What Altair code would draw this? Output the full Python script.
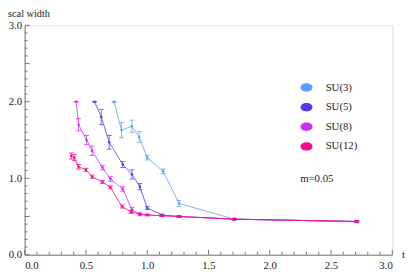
import altair as alt
import pandas as pd

series_names = ["SU(3)", "SU(5)", "SU(8)", "SU(12)"]
series_colors = ["#5c9eff", "#5a38f2", "#d02cf8", "#f70a8e"]

su3_t = [0.73, 0.79, 0.875, 0.935, 1.0, 1.13, 1.26, 1.71, 2.71]
su3_w = [2.00, 1.63, 1.68, 1.54, 1.27, 1.09, 0.67, 0.465, 0.43]
su3_e = [0.0, 0.10, 0.08, 0.07, 0.03, 0.03, 0.04, 0.01, 0.01]

su5_t = [0.57, 0.625, 0.69, 0.80, 0.875, 0.94, 1.0, 1.12, 1.26, 1.71, 2.71]
su5_w = [2.00, 1.80, 1.47, 1.18, 1.05, 0.89, 0.61, 0.52, 0.50, 0.465, 0.435]
su5_e = [0.0, 0.10, 0.09, 0.04, 0.06, 0.04, 0.02, 0.01, 0.01, 0.01, 0.01]

su8_t = [0.42, 0.44, 0.505, 0.55, 0.635, 0.70, 0.80, 0.875, 0.94, 1.0, 1.12, 1.26, 1.71, 2.71]
su8_w = [2.00, 1.70, 1.50, 1.36, 1.14, 0.99, 0.86, 0.59, 0.53, 0.52, 0.51, 0.50, 0.465, 0.435]
su8_e = [0.0, 0.08, 0.06, 0.06, 0.03, 0.03, 0.03, 0.03, 0.02, 0.01, 0.01, 0.01, 0.01, 0.01]

su12_t = [0.38, 0.405, 0.44, 0.50, 0.55, 0.635, 0.70, 0.795, 0.87, 0.94, 1.0, 1.12, 1.26, 1.71, 2.71]
su12_w = [1.29, 1.27, 1.15, 1.11, 1.02, 0.95, 0.88, 0.63, 0.56, 0.53, 0.52, 0.51, 0.50, 0.465, 0.435]
su12_e = [0.04, 0.04, 0.03, 0.02, 0.02, 0.02, 0.02, 0.02, 0.02, 0.01, 0.01, 0.01, 0.01, 0.01, 0.01]

major_ticks = [0.0, 0.5, 1.0, 1.5, 2.0, 2.5, 3.0]
minor_ticks = [i / 10 for i in range(0, 31) if i % 5 != 0]

rows = []
for name, ts, ws, es in zip(series_names,
                            [su3_t, su5_t, su8_t, su12_t],
                            [su3_w, su5_w, su8_w, su12_w],
                            [su3_e, su5_e, su8_e, su12_e]):
    for t, w, e in zip(ts, ws, es):
        rows.append({"series": name, "t": t, "w": w, "lo": w - e, "hi": w + e})
df = pd.DataFrame(rows)

W, H = 375, 234
serif = "Liberation Serif"

xs = alt.Scale(domain=[0, 3], nice=False, zero=False)
ys = alt.Scale(domain=[0, 3], nice=False, zero=False)
cs = alt.Scale(domain=series_names, range=series_colors)

ellipse = "M -1 0 A 1 0.7 0 1 0 1 0 A 1 0.7 0 1 0 -1 0 Z"

xaxis = alt.Axis(values=major_ticks, format=".1f", title=None, ticks=False, grid=False,
                 domainColor="#777777", labelFont=serif, labelFontSize=11,
                 labelColor="#222222", labelPadding=5)
yaxis = alt.Axis(values=major_ticks, format=".1f", title=None, ticks=False, grid=False,
                 domainColor="#777777", labelFont=serif, labelFontSize=11,
                 labelColor="#222222", labelPadding=3)

base = alt.Chart(df)

lines = base.mark_line(strokeWidth=1, opacity=0.8).encode(
    x=alt.X("t:Q", scale=xs, axis=xaxis),
    y=alt.Y("w:Q", scale=ys, axis=yaxis),
    color=alt.Color("series:N", scale=cs, legend=None),
    order="t:Q",
)

bars = base.mark_rule(strokeWidth=1, opacity=0.75).encode(
    x="t:Q", y="lo:Q", y2="hi:Q",
    color=alt.Color("series:N", scale=cs, legend=None),
)
cap_lo = base.mark_tick(orient="horizontal", size=5, thickness=1, opacity=0.75).encode(
    x="t:Q", y="lo:Q", color=alt.Color("series:N", scale=cs, legend=None),
)
cap_hi = base.mark_tick(orient="horizontal", size=5, thickness=1, opacity=0.75).encode(
    x="t:Q", y="hi:Q", color=alt.Color("series:N", scale=cs, legend=None),
)

dots = base.mark_circle(size=7, opacity=1).encode(
    x="t:Q", y="w:Q",
    color=alt.Color("series:N", scale=cs, legend=alt.Legend(
        orient="none", legendX=281, legendY=57, title=None,
        symbolType=ellipse, symbolSize=150, symbolOpacity=1,
        labelFont=serif, labelFontSize=11, labelColor="#222222",
        rowPadding=8, labelOffset=13, symbolStrokeWidth=0,
    )),
)

tmaj = pd.DataFrame({"v": major_ticks})
tmin = pd.DataFrame({"v": minor_ticks})
xt_major = alt.Chart(tmaj).mark_rule(color="#777777", strokeWidth=1).encode(
    x=alt.X("v:Q", scale=xs), y=alt.value(H), y2=alt.value(H - 5))
xt_minor = alt.Chart(tmin).mark_rule(color="#777777", strokeWidth=1).encode(
    x=alt.X("v:Q", scale=xs), y=alt.value(H), y2=alt.value(H - 3))
yt_major = alt.Chart(tmaj).mark_rule(color="#777777", strokeWidth=1).encode(
    y=alt.Y("v:Q", scale=ys), x=alt.value(0), x2=alt.value(5))
yt_minor = alt.Chart(tmin).mark_rule(color="#777777", strokeWidth=1).encode(
    y=alt.Y("v:Q", scale=ys), x=alt.value(0), x2=alt.value(3))

ylabel = alt.Chart(pd.DataFrame({"s": ["scal width"]})).mark_text(
    font=serif, fontSize=10.5, align="left", baseline="alphabetic", color="#222222").encode(
    text="s:N", x=alt.value(-17), y=alt.value(-8))
xlabel = alt.Chart(pd.DataFrame({"s": ["t"]})).mark_text(
    font=serif, fontSize=11, align="left", baseline="middle", color="#222222").encode(
    text="s:N", x=alt.value(385), y=alt.value(H))
mlabel = alt.Chart(pd.DataFrame({"s": ["m=0.05"]})).mark_text(
    font=serif, fontSize=11, align="left", baseline="middle", color="#222222").encode(
    text="s:N", x=alt.value(281), y=alt.value(157))

chart = alt.layer(
    xt_minor, xt_major, yt_minor, yt_major,
    lines, bars, cap_lo, cap_hi, dots,
    ylabel, xlabel, mlabel,
).resolve_legend(color="independent").properties(
    width=W, height=H,
    autosize=alt.AutoSizeParams(type="none"),
    padding={"left": 17, "top": 15, "right": 15, "bottom": 17},
).configure_view(stroke=None).configure(background="white")

chart.save("out.html", embed_options={"renderer": "svg", "actions": False})
